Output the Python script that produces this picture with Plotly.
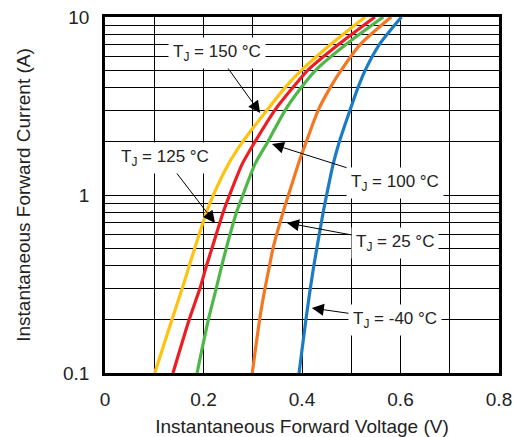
import plotly.graph_objects as go
import math

# Forward current (A) sample points
current = [0.1, 0.2, 0.3, 0.4, 0.5, 0.8, 1, 1.5, 2, 3, 4, 5, 7, 10]

# Forward voltage (V) for each junction temperature
v_150 = [0.101, 0.136, 0.157, 0.171, 0.182, 0.206, 0.220, 0.251, 0.280, 0.329, 0.365, 0.398, 0.458, 0.528]
v_125 = [0.138, 0.171, 0.193, 0.206, 0.217, 0.240, 0.253, 0.279, 0.305, 0.345, 0.381, 0.411, 0.474, 0.548]
v_100 = [0.187, 0.210, 0.226, 0.237, 0.246, 0.267, 0.280, 0.305, 0.331, 0.366, 0.398, 0.427, 0.489, 0.565]
v_25 = [0.299, 0.314, 0.325, 0.334, 0.341, 0.3615, 0.3725, 0.3927, 0.409, 0.433, 0.457, 0.479, 0.518, 0.581]
v_m40 = [0.394, 0.408, 0.417, 0.424, 0.430, 0.443, 0.450, 0.4635, 0.476, 0.4975, 0.5135, 0.528, 0.557, 0.602]

series_names = ["T<sub>J</sub> = 150 °C", "T<sub>J</sub> = 125 °C", "T<sub>J</sub> = 100 °C",
                "T<sub>J</sub> = 25 °C", "T<sub>J</sub> = -40 °C"]
series_values = [v_150, v_125, v_100, v_25, v_m40]
colors = ["#FFC20E", "#EE1D23", "#4DB848", "#F47721", "#1B7CC4"]

# Label annotations: text position (V, A) and arrow tip (V, A)
label_text_pos = [(0.2274, 6.28), (0.1218, 1.614), (0.589, 1.167), (0.589, 0.537), (0.589, 0.1986)]
label_tip_pos = [(0.315, 2.89), (0.2234, 0.697), (0.339, 1.934), (0.3695, 0.697), (0.420, 0.2317)]

x_ticks = [0, 0.2, 0.4, 0.6, 0.8]
x_tick_text = ["0", "0.2", "0.4", "0.6", "0.8"]
x_minor = [0.1, 0.3, 0.5, 0.7]
y_ticks = [0.1, 1, 10]
y_tick_text = ["0.1", "1", "10"]
y_minor = [m * d for d in (0.1, 1) for m in range(2, 10)]

FONT = "Liberation Sans, Arial, sans-serif"

fig = go.Figure()
for name, vals, col in zip(series_names, series_values, colors):
    fig.add_trace(go.Scatter(x=vals, y=current, mode="lines", name=name,
                             line=dict(color=col, width=3.2, shape="spline", smoothing=0.7)))

for text, (tx, ty), (px, py) in zip(series_names, label_text_pos, label_tip_pos):
    fig.add_annotation(x=px, y=math.log10(py), xref="x", yref="y",
                       ax=tx, ay=math.log10(ty), axref="x", ayref="y",
                       text=text, showarrow=True, arrowhead=2, arrowsize=2.4,
                       arrowwidth=1, arrowcolor="black", standoff=0,
                       bgcolor="white", borderpad=4,
                       font=dict(family=FONT, size=17, color="#222"))

fig.update_layout(
    width=514, height=437,
    margin=dict(l=105, r=15, t=17, b=64),
    paper_bgcolor="white", plot_bgcolor="white",
    showlegend=False,
    font=dict(family=FONT, size=19, color="#222"),
)
fig.update_xaxes(range=[0, 0.8], tickvals=x_ticks, ticktext=x_tick_text, automargin=False,
                 showgrid=True, gridcolor="black", gridwidth=1,
                 minor=dict(tickvals=x_minor, showgrid=True, gridcolor="black", gridwidth=1),
                 showline=True, linecolor="black", linewidth=2.5, mirror=True,
                 ticks="", ticklabelstandoff=7, ticklabeloverflow="allow", zeroline=False,
                 tickfont=dict(size=19),
                 title=dict(text="Instantaneous Forward Voltage (V)", font=dict(size=19), standoff=13))
fig.update_yaxes(type="log", range=[-1, 1], tickvals=y_ticks, ticktext=y_tick_text, automargin=False,
                 showgrid=True, gridcolor="black", gridwidth=1,
                 minor=dict(tickvals=y_minor, showgrid=True, gridcolor="black", gridwidth=1),
                 showline=True, linecolor="black", linewidth=2.5, mirror=True,
                 ticks="", ticklabelstandoff=9, ticklabeloverflow="allow", zeroline=False,
                 tickfont=dict(size=19),
                 title=dict(text="Instantaneous Forward Current (A)", font=dict(size=19), standoff=28))

# remove the page's default body margin so the figure fills the window exactly
fig.write_html("out.html",
               config={"displayModeBar": False},
               post_script="document.body.style.margin='0';document.body.style.overflow='hidden';")
